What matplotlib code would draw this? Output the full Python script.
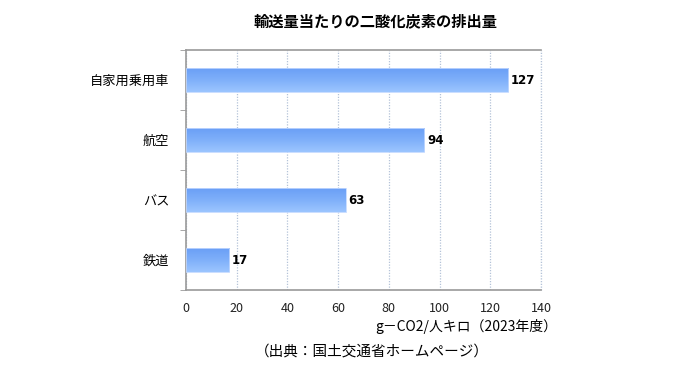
import numpy as np
import matplotlib.pyplot as plt
from matplotlib.colors import LinearSegmentedColormap

plt.rcParams['font.family'] = ['Noto Sans CJK JP', 'DejaVu Sans']

categories = ["自家用乗用車", "航空", "バス", "鉄道"]
values = [127, 94, 63, 17]
xticks = [0, 20, 40, 60, 80, 100, 120, 140]
title = "輸送量当たりの二酸化炭素の排出量"
unit_note = "g－CO2/人キロ（2023年度）"
source_note = "（出典：国土交通省ホームページ）"

fig = plt.figure(figsize=(6.8, 3.78), dpi=100)
ax = fig.add_axes([186 / 680, 1 - 290 / 378, 355 / 680, 240 / 378])

# darker blue at the top of each bar, lighter towards the bottom
grad = LinearSegmentedColormap.from_list("bar", ["#6a9ff6", "#7fb0fa", "#9cc5ff"])
bar_h = 0.4
ypos = np.arange(len(categories))[::-1]
for y, v in zip(ypos, values):
    rect = ax.barh(y, v, height=bar_h, color="none", edgecolor="#c2d8ff",
                   linewidth=0.6, zorder=3)[0]
    img = ax.imshow(np.linspace(0, 1, 64).reshape(-1, 1), cmap=grad, aspect="auto",
                    extent=[0, v, y - bar_h / 2, y + bar_h / 2], zorder=2,
                    interpolation="bicubic")
    img.set_clip_path(rect)
    ax.text(v + 1.0, y, str(v), va="center", ha="left", fontsize=8.5,
            fontweight="bold", family=["DejaVu Sans"])

ax.set_xlim(0, 140)
ax.set_ylim(-0.5, len(categories) - 0.5)
ax.set_xticks(xticks)
ax.set_xticklabels([str(t) for t in xticks], fontsize=9, color="#222222")
ax.set_yticks(ypos)
ax.set_yticklabels(categories, fontsize=9.5)
ax.set_yticks([-0.5, 0.5, 1.5, 2.5, 3.5], minor=True)
ax.tick_params(axis="y", which="major", length=0, pad=12)
ax.tick_params(axis="y", which="minor", length=4, color="#999999", direction="out")
ax.tick_params(axis="x", length=0, pad=9)
ax.grid(axis="x", color="#b4c3d8", linestyle=(0, (1, 1.2)), linewidth=0.9, zorder=0)
ax.axvline(140, color="#b4c3d8", linestyle=(0, (1, 1.2)), linewidth=0.9, zorder=0,
           clip_on=False)
for s in ["left", "bottom", "top"]:
    ax.spines[s].set_color("#9a9a9a")
    ax.spines[s].set_linewidth(1.2)
ax.spines["right"].set_visible(False)

fig.text(376 / 680, 1 - 21 / 378, title, ha="center", va="center",
         fontsize=11, fontweight="bold")
fig.text(557 / 680, 1 - 327 / 378, unit_note, ha="right", va="center", fontsize=10)
fig.text(372 / 680, 1 - 352 / 378, source_note, ha="center", va="center", fontsize=10.5)

fig.savefig("out.png", dpi=100)
